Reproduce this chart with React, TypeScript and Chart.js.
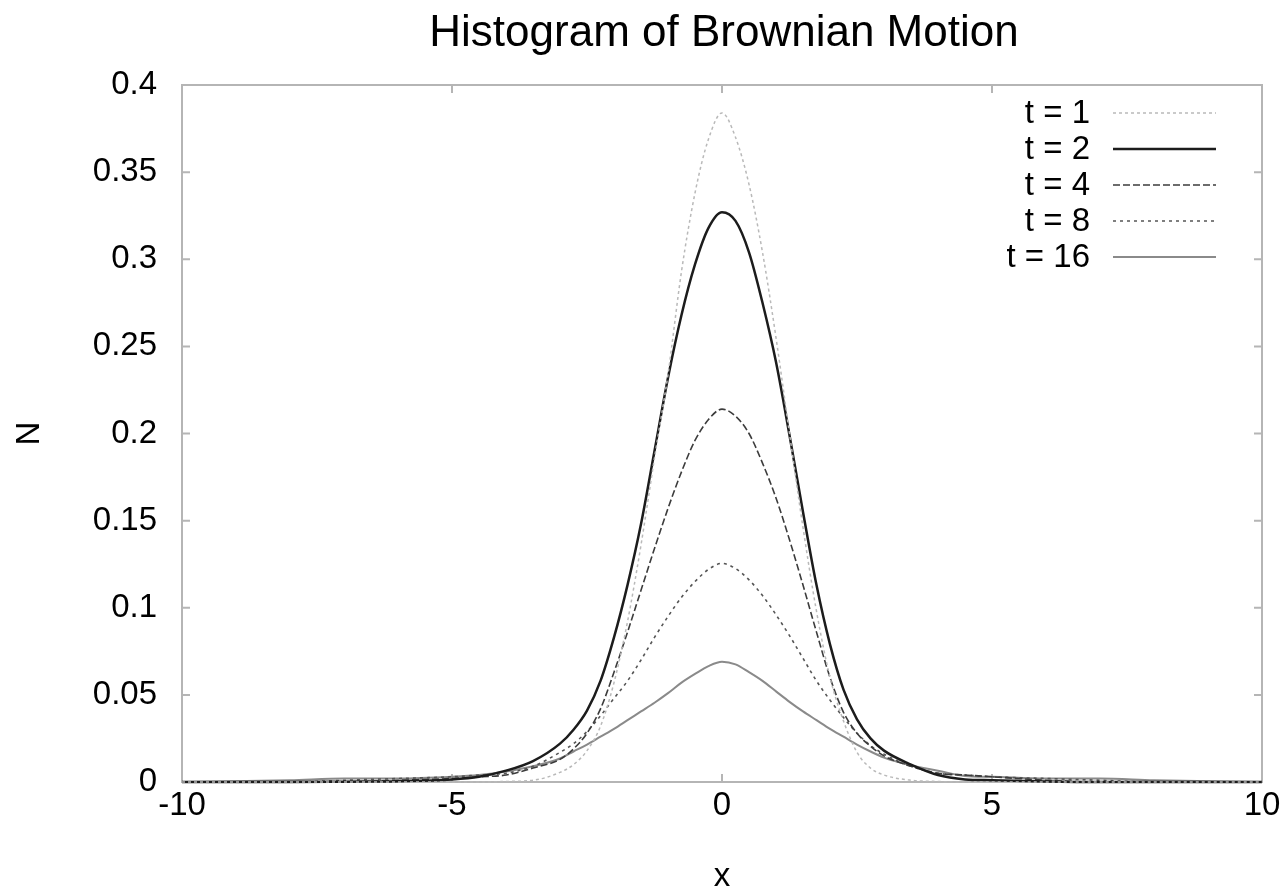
import React, { useEffect, useRef } from "react";
import { Chart, registerables } from "chart.js";

Chart.register(...registerables);

// ---- data ----
const chartTitle = "Histogram of Brownian Motion";
const xAxisTitle = "x";
const yAxisTitle = "N";
const seriesLabels = ["t = 1", "t = 2", "t = 4", "t = 8", "t = 16"];
const xTickValues = [-10, -5, 0, 5, 10];
const yTickValues = [0, 0.05, 0.1, 0.15, 0.2, 0.25, 0.3, 0.35, 0.4];

const xValues = [
  -10, -8, -7, -6, -5, -4.5, -4, -3.5, -3, -2.75, -2.5, -2.25, -2, -1.75, -1.5, -1.25, -1, -0.75, -0.5, -0.25,
  0,
  0.25, 0.5, 0.75, 1, 1.25, 1.5, 1.75, 2, 2.25, 2.5, 2.75, 3, 3.5, 4, 4.5, 5, 6, 7, 8, 10,
];

const t1Values = [
  0, 0, 0, 0, 0, 0, 0.0003, 0.001, 0.0055, 0.01, 0.018, 0.032, 0.057, 0.092, 0.136, 0.186, 0.234, 0.293, 0.338, 0.369,
  0.384,
  0.37, 0.343, 0.304, 0.255, 0.2, 0.146, 0.098, 0.06, 0.035, 0.017, 0.008, 0.004, 0.001, 0.0003, 0, 0, 0, 0, 0, 0,
];

const t2Values = [
  0, 0, 0.0002, 0.0005, 0.0015, 0.003, 0.0065, 0.012, 0.022, 0.03, 0.041, 0.058, 0.083, 0.113, 0.148, 0.19, 0.232, 0.268, 0.297, 0.318,
  0.327,
  0.322, 0.304, 0.275, 0.241, 0.199, 0.155, 0.113, 0.079, 0.053, 0.036, 0.025, 0.018, 0.01, 0.004, 0.0015, 0.001, 0.0003, 0, 0, 0,
];

const t4Values = [
  0, 0, 0, 0.001, 0.002, 0.003, 0.004, 0.008, 0.013, 0.019, 0.028, 0.042, 0.063, 0.086, 0.11, 0.134, 0.157, 0.178, 0.196, 0.208,
  0.214,
  0.21, 0.2, 0.183, 0.163, 0.139, 0.113, 0.086, 0.06, 0.04, 0.028, 0.0205, 0.015, 0.009, 0.005, 0.004, 0.003, 0.001, 0, 0, 0,
];

const t8Values = [
  0, 0, 0.001, 0.002, 0.003, 0.004, 0.005, 0.009, 0.017, 0.022, 0.029, 0.038, 0.048, 0.058, 0.07, 0.083, 0.095, 0.106, 0.115, 0.122,
  0.1255,
  0.1225, 0.116, 0.107, 0.096, 0.084, 0.071, 0.058, 0.047, 0.037, 0.028, 0.021, 0.016, 0.009, 0.005, 0.004, 0.003, 0.002, 0.001, 0, 0,
];

const t16Values = [
  0, 0.001, 0.002, 0.002, 0.003, 0.004, 0.006, 0.009, 0.0135, 0.0175, 0.0215, 0.026, 0.0305, 0.0355, 0.0405, 0.0455, 0.051, 0.057, 0.062, 0.0665,
  0.069,
  0.0675, 0.063, 0.058, 0.052, 0.046, 0.0405, 0.0355, 0.0305, 0.026, 0.0215, 0.0175, 0.014, 0.0095, 0.0065, 0.0035, 0.003, 0.002, 0.002, 0.001, 0,
];

const seriesValues = [t1Values, t2Values, t4Values, t8Values, t16Values];

// ---- styles ----
const FONT = "'Liberation Sans', Arial, Helvetica, sans-serif";
const seriesColors = ["#b9b9b9", "#1c1c1c", "#3c3c3c", "#555555", "#8a8a8a"];
const seriesWidths = [1.5, 2.5, 1.6, 1.6, 2];
const seriesDashes: number[][] = [[3, 3], [], [7, 3], [3, 4], []];
const frameColor = "#b5b5b5";

const framePlugin = {
  id: "gnuFrame",
  beforeDatasetsDraw(chart: any) {
    const { ctx, chartArea: a } = chart;
    const xs = chart.scales.x;
    const ys = chart.scales.y;
    ctx.save();
    ctx.strokeStyle = frameColor;
    ctx.lineWidth = 2;
    ctx.strokeRect(a.left, a.top, a.right - a.left, a.bottom - a.top);
    const tl = 8;
    ctx.beginPath();
    xs.ticks.forEach((t: any) => {
      const px = xs.getPixelForValue(t.value);
      ctx.moveTo(px, a.bottom);
      ctx.lineTo(px, a.bottom - tl);
      ctx.moveTo(px, a.top);
      ctx.lineTo(px, a.top + tl);
    });
    ys.ticks.forEach((t: any) => {
      const py = ys.getPixelForValue(t.value);
      ctx.moveTo(a.left, py);
      ctx.lineTo(a.left + tl, py);
      ctx.moveTo(a.right, py);
      ctx.lineTo(a.right - tl, py);
    });
    ctx.stroke();
    ctx.restore();
  },
  afterDraw(chart: any) {
    const { ctx, chartArea: a } = chart;
    const cx = (a.left + a.right) / 2;
    ctx.save();
    ctx.fillStyle = "#000";
    // title
    ctx.font = `44px ${FONT}`;
    ctx.textAlign = "center";
    ctx.textBaseline = "alphabetic";
    ctx.fillText(chartTitle, cx + 2, 46);
    // x axis title
    ctx.font = `33px ${FONT}`;
    ctx.fillText(xAxisTitle, cx, 886);
    // y axis title
    ctx.save();
    ctx.translate(30, (a.top + a.bottom) / 2);
    ctx.rotate(-Math.PI / 2);
    ctx.textBaseline = "middle";
    ctx.fillText(yAxisTitle, 0, 0);
    ctx.restore();
    // legend
    chart.data.datasets.forEach((ds: any, i: number) => {
      const y = a.top + 28 + i * 36;
      ctx.font = `33px ${FONT}`;
      ctx.textAlign = "right";
      ctx.textBaseline = "middle";
      ctx.fillStyle = "#000";
      ctx.fillText(ds.label, a.right - 172, y + 1);
      ctx.beginPath();
      ctx.strokeStyle = ds.borderColor;
      ctx.lineWidth = ds.borderWidth;
      ctx.setLineDash(ds.borderDash || []);
      ctx.moveTo(a.right - 149, y);
      ctx.lineTo(a.right - 46, y);
      ctx.stroke();
      ctx.setLineDash([]);
    });
    ctx.restore();
  },
};

export default function App() {
  const canvasRef = useRef<HTMLCanvasElement | null>(null);

  useEffect(() => {
    document.body.style.margin = "0";
    const canvas = canvasRef.current;
    if (!canvas) return;

    const datasets = seriesLabels.map((label, i) => ({
      label,
      data: xValues.map((x, k) => ({ x, y: seriesValues[i][k] })),
      borderColor: seriesColors[i],
      borderWidth: seriesWidths[i],
      borderDash: seriesDashes[i],
      pointRadius: 0,
      fill: false,
      cubicInterpolationMode: "monotone" as const,
      clip: 3,
    }));

    const chart = new Chart(canvas, {
      type: "line",
      data: { datasets },
      options: {
        responsive: false,
        animation: false,
        devicePixelRatio: 1,
        layout: { padding: { top: 85, right: 23, bottom: 0, left: 0 } },
        plugins: {
          legend: { display: false },
          title: { display: false },
          tooltip: { enabled: false },
        },
        scales: {
          x: {
            type: "linear",
            min: -10,
            max: 10,
            afterBuildTicks: (scale: any) => {
              scale.ticks = xTickValues.map((v) => ({ value: v }));
            },
            afterFit: (scale: any) => {
              scale.height = 108;
            },
            grid: { display: false, drawTicks: false },
            border: { display: false },
            ticks: {
              color: "#000",
              padding: 4,
              maxRotation: 0,
              autoSkip: false,
              font: { family: FONT, size: 33, lineHeight: 1.2 },
              callback: (v: any) => String(v),
            },
          },
          y: {
            type: "linear",
            min: 0,
            max: 0.4,
            afterBuildTicks: (scale: any) => {
              scale.ticks = yTickValues.map((v) => ({ value: v }));
            },
            afterFit: (scale: any) => {
              scale.width = 182;
            },
            grid: { display: false, drawTicks: false },
            border: { display: false },
            ticks: {
              color: "#000",
              padding: 25,
              autoSkip: false,
              font: { family: FONT, size: 33, lineHeight: 1.2 },
              callback: (v: any) => String(Number(Number(v).toFixed(2))),
            },
          },
        },
      },
      plugins: [framePlugin],
    });

    return () => chart.destroy();
  }, []);

  return (
    <div style={{ width: 1285, height: 890, background: "#fff" }}>
      <canvas ref={canvasRef} width={1285} height={890} style={{ display: "block" }} />
    </div>
  );
}
